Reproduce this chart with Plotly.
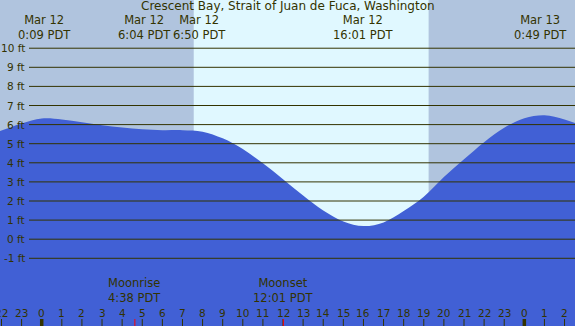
import plotly.graph_objects as go

# ---- data ----
title = "Crescent Bay, Strait of Juan de Fuca, Washington"
hours = [-3, -2, -1, 0, 1, 2, 3, 4, 5, 6, 7, 8, 9, 10, 11, 12, 13, 14, 15, 16,
         17, 18, 19, 20, 21, 22, 23, 24, 25, 26, 27]
heights = [5.30, 5.69, 6.06, 6.32, 6.27, 6.12, 5.97, 5.85, 5.76, 5.71, 5.71, 5.63,
           5.28, 4.72, 3.97, 3.14, 2.29, 1.50, 0.93, 0.69, 0.88, 1.47, 2.22, 3.25,
           4.18, 5.08, 5.83, 6.33, 6.49, 6.27, 5.88]

extreme_hours = [0.15, 6.067, 6.833, 16.017, 24.817]
extreme_dates = ["Mar 12", "Mar 12", "Mar 12", "Mar 12", "Mar 13"]
extreme_times = ["0:09 PDT", "6:04 PDT", "6:50 PDT", "16:01 PDT", "0:49 PDT"]
extreme_shift = [0, -19, 20, 0, 0]

moon_hours = [4.633, 12.017]
moon_names = ["Moonrise", "Moonset"]
moon_times = ["4:38 PDT", "12:01 PDT"]

sunrise_h = 7.56
sunset_h = 19.24

ft_levels = list(range(-1, 11))
hour_ticks = list(range(-2, 27))
hour_labels = [str(h % 24) for h in hour_ticks]

# ---- style ----
W, H = 575, 326
X_RANGE = [-2.074, 26.52]
Y_RANGE = [-4.545, 12.524]
NIGHT = "#B0C4DE"
DAY = "#E0F8FF"
WATER = "#4160D5"
INK = "#333300"
FONT = "DejaVu Sans"

def py(px):
    return 1 - px / H

fig = go.Figure()
fig.add_trace(go.Scatter(x=[hours[0], hours[-1]], y=[-6, -6], mode="lines",
                         line=dict(width=0, color=WATER), hoverinfo="skip",
                         showlegend=False))
fig.add_trace(go.Scatter(x=hours, y=heights, mode="lines",
                         line=dict(width=0, color=WATER, shape="spline", smoothing=1.0),
                         fill="tonexty", fillcolor=WATER, hoverinfo="skip",
                         showlegend=False))

shapes = []
shapes.append(dict(type="rect", xref="x", yref="paper", x0=sunrise_h, x1=sunset_h,
                   y0=0, y1=1, fillcolor=DAY, line=dict(width=0), layer="below"))
for lv in ft_levels:
    shapes.append(dict(type="line", xref="paper", yref="y", x0=29 / W, x1=1,
                       y0=lv, y1=lv, line=dict(color=INK, width=1), layer="above"))
for h in hour_ticks:
    shapes.append(dict(type="line", xref="x", yref="paper", x0=h, x1=h,
                       y0=0, y1=7 / H,
                       line=dict(color=INK, width=3.5 if h % 24 == 0 else 1),
                       layer="above"))
for mh in moon_hours:
    shapes.append(dict(type="line", xref="x", yref="paper", x0=mh, x1=mh,
                       y0=0, y1=7 / H, line=dict(color="#FF0000", width=1),
                       layer="above"))

ann = []
def txt(x, y, s, size, xref="x", xanchor="center", xshift=0):
    ann.append(dict(x=x, y=y, xref=xref, yref="paper", text=s, showarrow=False,
                    xanchor=xanchor, yanchor="middle", xshift=xshift,
                    font=dict(family=FONT, size=size, color=INK)))

txt(0.5, py(6.5), title, 12, xref="paper")
for eh, d, t, sh in zip(extreme_hours, extreme_dates, extreme_times, extreme_shift):
    txt(eh, py(27.5), f"{d}<br>{t}", 11.5, xshift=sh)
for mh, n, t in zip(moon_hours, moon_names, moon_times):
    txt(mh, py(290.5), f"{n}<br>{t}", 11.5)
for h, lab in zip(hour_ticks, hour_labels):
    txt(h, py(312.5), lab, 10.5)
for lv in ft_levels:
    ann.append(dict(x=27 / W, y=lv, xref="paper", yref="y", text=f"{lv} ft",
                    showarrow=False, xanchor="right", yanchor="middle",
                    font=dict(family=FONT, size=10.5, color=INK)))

fig.update_layout(
    width=W, height=H, margin=dict(l=0, r=0, t=0, b=0),
    paper_bgcolor=NIGHT, plot_bgcolor=NIGHT,
    xaxis=dict(range=X_RANGE, visible=False, fixedrange=True),
    yaxis=dict(range=Y_RANGE, visible=False, fixedrange=True),
    shapes=shapes, annotations=ann, showlegend=False,
)
fig.write_html("out.html", config={"displayModeBar": False},
               post_script="document.body.style.margin='0';document.body.style.overflow='hidden';")
